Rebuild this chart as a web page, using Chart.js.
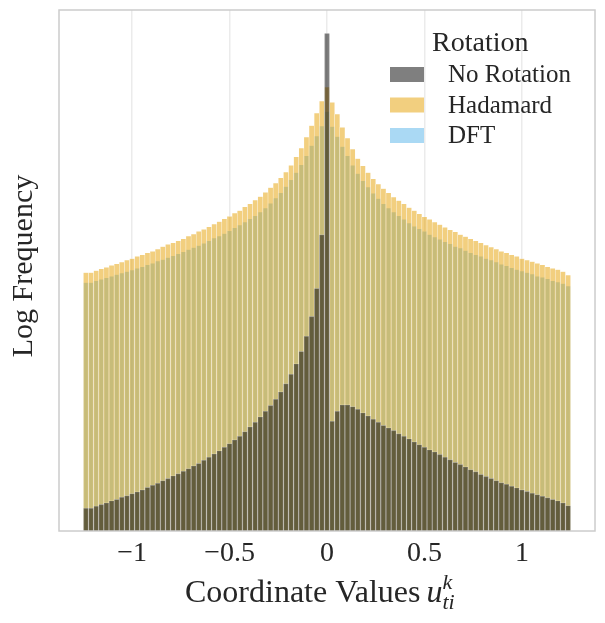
<!DOCTYPE html>
<html>
  <head>
    <title>Log Frequency by rotation</title>
    <style>
      html, body { margin: 0; padding: 0; background: #ffffff; }
    </style>
  </head>
  <body>
    <canvas id="canvas" width="605" height="623"></canvas>
    <script src="https://cdn.jsdelivr.net/npm/chart.js@4.4.1/dist/chart.umd.min.js"></script>
    <script>
      // histogram bins (shared by all three series)
      const binMin = -1.25;
      const binMax = 1.25;
      const binCount = 95;

      const seriesNames = ["No Rotation", "Hadamard", "DFT"];

      // log frequency per bin, relative units (0 = bottom of axis, 100 = top)
      const noRotation = [
        4.4, 4.4, 4.8, 5.1, 5.4, 5.8, 6.1, 6.5, 6.8, 7.2, 7.5, 7.9, 8.4, 8.8, 9.2, 9.7,
        10.1, 10.6, 11.0, 11.5, 12.0, 12.5, 13.0, 13.6, 14.2, 14.8, 15.4, 16.1, 16.8, 17.5,
        18.2, 19.1, 20.0, 20.9, 21.9, 23.0, 24.1, 25.3, 26.7, 28.3, 30.1, 32.1, 34.5, 37.4,
        41.2, 46.6, 56.9,
        95.5,
        21.1, 23.0, 24.2, 24.2, 23.9, 23.4, 22.7, 22.1, 21.5, 20.9, 20.3, 19.8, 19.3, 18.7,
        18.2, 17.7, 17.1, 16.6, 16.1, 15.6, 15.2, 14.7, 14.2, 13.7, 13.2, 12.8, 12.3, 11.8,
        11.4, 10.9, 10.5, 10.1, 9.7, 9.3, 9.0, 8.6, 8.3, 7.9, 7.6, 7.3, 7.0, 6.7, 6.4, 6.1,
        5.8, 5.4, 4.9
      ];
      const hadamard = [
        49.6, 49.6, 50.0, 50.3, 50.6, 51.0, 51.3, 51.6, 52.0, 52.3, 52.7, 53.0, 53.4, 53.7,
        54.1, 54.6, 55.0, 55.3, 55.7, 56.1, 56.6, 57.0, 57.5, 57.9, 58.4, 58.9, 59.4, 59.9,
        60.4, 61.0, 61.5, 62.2, 62.8, 63.5, 64.2, 65.0, 65.9, 66.8, 67.8, 68.9, 70.2, 71.8,
        73.5, 75.6, 77.8, 80.2, 82.5,
        85.2,
        82.3, 80.0, 77.5, 75.4, 73.3, 71.5, 70.1, 68.8, 67.6, 66.6, 65.7, 64.9, 64.1, 63.4,
        62.8, 62.1, 61.5, 60.9, 60.3, 59.8, 59.3, 58.8, 58.3, 57.8, 57.4, 56.9, 56.5, 56.1,
        55.7, 55.3, 54.9, 54.5, 54.1, 53.7, 53.4, 53.0, 52.7, 52.3, 52.0, 51.7, 51.4, 51.1,
        50.7, 50.4, 50.2, 49.8, 49.1
      ];
      const dft = [
        47.7, 47.7, 48.0, 48.3, 48.6, 48.9, 49.2, 49.5, 49.8, 50.1, 50.4, 50.7, 51.1, 51.4,
        51.8, 52.1, 52.5, 52.8, 53.2, 53.6, 54.0, 54.4, 54.8, 55.2, 55.7, 56.2, 56.6, 57.1,
        57.6, 58.2, 58.7, 59.3, 59.9, 60.5, 61.2, 62.0, 62.9, 63.9, 64.9, 66.1, 67.4, 68.8,
        70.3, 72.0, 74.0, 75.8, 77.7,
        80.5,
        77.6, 75.7, 73.8, 72.0, 70.2, 68.6, 67.2, 66.0, 64.8, 63.8, 62.8, 62.0, 61.2, 60.5,
        59.8, 59.1, 58.5, 58.0, 57.5, 56.9, 56.4, 56.0, 55.5, 55.1, 54.6, 54.3, 53.8, 53.4,
        53.0, 52.7, 52.3, 52.0, 51.6, 51.2, 50.9, 50.5, 50.2, 49.9, 49.6, 49.3, 48.9, 48.7,
        48.4, 48.0, 47.8, 47.5, 47.0
      ];

      const xTicks = [-1, -0.5, 0, 0.5, 1];
      const xTickLabels = ["\u22121", "\u22120.5", "0", "0.5", "1"];

      const colors = ["rgba(0,0,0,0.5)", "rgba(230,159,0,0.5)", "rgba(86,180,233,0.5)"];
      const serif = "'Liberation Serif', 'DejaVu Serif', serif";
      const ink = "#262626";

      const binWidth = (binMax - binMin) / binCount;
      const centers = noRotation.map((_, i) => binMin + (i + 0.5) * binWidth);
      const toPoints = (vals) => vals.map((v, i) => ({ x: centers[i], y: v }));

      const makeSet = (label, vals, color) => ({
        label: label,
        data: toPoints(vals),
        backgroundColor: color,
        borderColor: "rgba(255,255,255,0.5)",
        borderWidth: { left: 0.5, right: 0.5, top: 0.5, bottom: 0 },
        borderSkipped: "start",
        barPercentage: 1,
        categoryPercentage: 1,
        grouped: false
      });

      // frame, axis titles and legend drawn on top
      const decorations = {
        id: "decorations",
        afterDraw(chart) {
          const ctx = chart.ctx;
          const a = chart.chartArea;
          ctx.save();

          ctx.strokeStyle = "#cccccc";
          ctx.lineWidth = 1.5;
          ctx.strokeRect(a.left, a.top, a.right - a.left, a.bottom - a.top);

          ctx.fillStyle = ink;
          ctx.textBaseline = "alphabetic";

          // y title
          ctx.save();
          ctx.translate(32, 266);
          ctx.rotate(-Math.PI / 2);
          ctx.font = "30px " + serif;
          ctx.textAlign = "center";
          ctx.fillText("Log Frequency", 0, 0);
          ctx.restore();

          // x title with u_{ti}^k
          ctx.textAlign = "left";
          ctx.font = "32px " + serif;
          const base = "Coordinate Values ";
          let x = 185;
          const yb = 602;
          ctx.fillText(base, x, yb);
          x += ctx.measureText(base).width - 2;
          ctx.font = "italic 32px " + serif;
          ctx.fillText("u", x, yb);
          x += ctx.measureText("u").width;
          ctx.font = "italic 22px " + serif;
          ctx.fillText("k", x, yb - 13);
          ctx.fillText("ti", x, yb + 7);

          // legend
          ctx.font = "28px " + serif;
          ctx.fillText("Rotation", 432, 51);
          ctx.font = "25px " + serif;
          const baselines = [82, 112.5, 143];
          seriesNames.forEach((name, i) => {
            ctx.fillStyle = colors[i];
            ctx.fillRect(390, baselines[i] - 15, 34, 15);
            ctx.fillStyle = ink;
            ctx.fillText(name, 448, baselines[i]);
          });
          ctx.restore();
        }
      };

      new Chart(document.getElementById("canvas").getContext("2d"), {
        type: "bar",
        data: {
          datasets: [
            makeSet(seriesNames[0], noRotation, colors[0]),
            makeSet(seriesNames[1], hadamard, colors[1]),
            makeSet(seriesNames[2], dft, colors[2])
          ]
        },
        options: {
          responsive: false,
          animation: false,
          devicePixelRatio: 1,
          layout: { padding: { top: 10, right: 10, left: 0, bottom: 0 } },
          plugins: {
            legend: { display: false },
            tooltip: { enabled: false }
          },
          scales: {
            x: {
              type: "linear",
              min: -1.375,
              max: 1.375,
              offset: false,
              afterBuildTicks: (s) => { s.ticks = xTicks.map((v) => ({ value: v })); },
              afterFit: (s) => { s.height = 92; },
              ticks: {
                padding: 6,
                maxRotation: 0,
                color: ink,
                font: { family: serif, size: 28 },
                callback: (v) => xTickLabels[xTicks.indexOf(v)]
              },
              grid: { color: "#ebebeb", lineWidth: 1.5, drawTicks: false, offset: false },
              border: { display: false }
            },
            y: {
              min: 0,
              max: 100,
              afterFit: (s) => { s.width = 59; },
              ticks: { display: false },
              grid: { display: false },
              border: { display: false }
            }
          }
        },
        plugins: [decorations]
      });
    </script>
  </body>
</html>
